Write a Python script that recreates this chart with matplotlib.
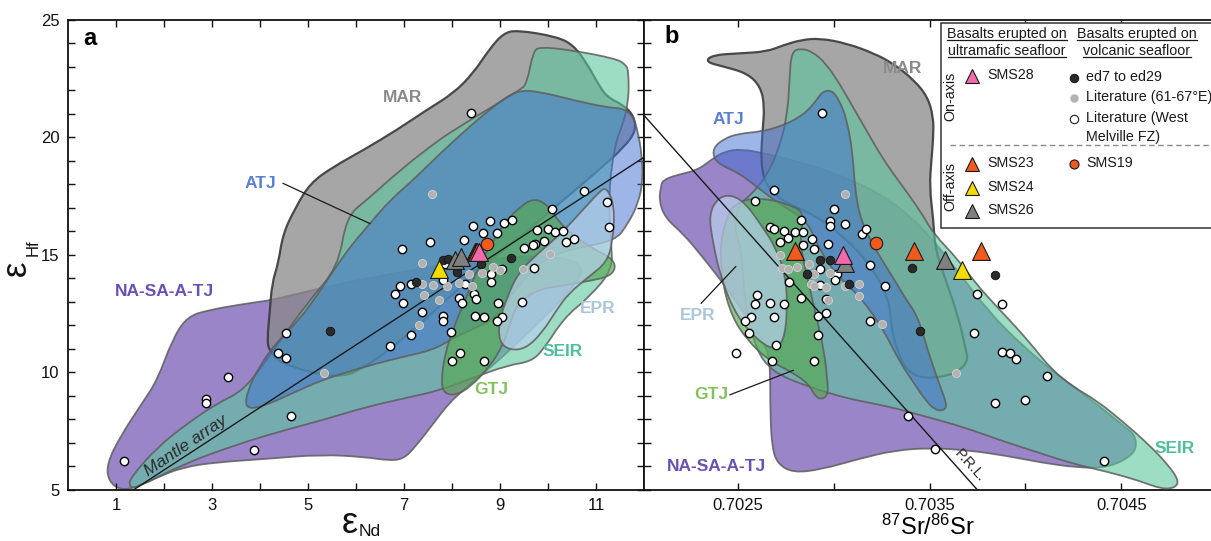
import numpy as np
import matplotlib
matplotlib.use("Agg")
import matplotlib.pyplot as plt
from matplotlib.path import Path
from matplotlib.patches import PathPatch, Rectangle
from matplotlib.lines import Line2D
from matplotlib.colors import to_rgba
from matplotlib.ticker import FixedLocator, FormatStrFormatter

plt.rcParams['font.family'] = ['Liberation Sans', 'DejaVu Sans']
plt.rcParams['mathtext.fontset'] = 'custom'
plt.rcParams['mathtext.rm'] = 'Liberation Sans'
plt.rcParams['mathtext.it'] = 'Liberation Sans:italic'
plt.rcParams['mathtext.bf'] = 'Liberation Sans:bold'

# ---------------- panel a : field outlines (eNd, eHf) ----------------
a_nsat_x = [0.81,1.08,1.54,1.86,2.17,2.48,2.95,3.57,4.03,4.27,5.5,7.0,8.5,10.0,10.8,10.5,9.5,8.8,8.39,8.24,
            7.93,7.61,7.23,6.99,6.68,6.21,5.28,4.11,3.10,2.40,1.86,1.39,1.08,0.84]
a_nsat_y = [6.11,7.25,8.68,9.67,11.38,12.38,12.66,12.88,13.02,13.09,13.7,14.3,14.8,15.0,14.6,13.5,11.5,10.2,9.53,9.25,
            8.68,7.82,6.82,6.32,6.25,6.40,6.51,6.32,6.18,5.97,5.54,5.09,5.0,5.4]
a_mar_x = [4.15,4.2,4.25,4.38,4.48,4.73,5.04,5.53,6.15,6.85,7.47,8.03,8.44,8.79,9.07,9.35,10.18,10.53,10.81,11.02,
           11.22,11.57,11.78,11.84,11.6,11.0,10.3,9.5,8.7,8.0,7.3,6.6,6.06,5.75,5.28,4.66,4.35,4.19]
a_mar_y = [11.38,12.5,13.8,14.63,15.91,16.97,18.04,18.75,19.45,20.31,21.16,21.87,22.72,23.78,24.42,24.56,24.28,23.92,23.14,22.36,
           21.72,21.37,20.94,20.3,19.6,18.5,17.3,15.9,14.6,13.3,12.0,10.8,10.1,9.84,9.89,10.24,10.53,10.95]
a_seir_x = [9.69,9.83,10.5,11.4,11.62,11.68,11.68,11.55,11.39,11.26,11.31,11.35,10.87,10.34,9.9,9.64,9.17,8.39,7.77,6.99,
            6.21,5.28,4.50,3.57,2.40,1.39,1.27,1.31,1.86,2.48,3.10,3.68,4.3,5.0,5.63,5.80,6.22,6.92,7.54,8.03,9.42,9.56]
a_seir_y = [23.64,23.85,23.7,23.35,23.1,22.8,21.5,20.5,19.67,17.62,15.56,14.39,13.22,12.34,10.95,10.46,10.31,9.74,9.25,8.89,
            8.53,7.96,7.54,6.97,6.11,5.04,5.19,5.54,6.82,7.82,8.68,9.25,11.0,13.0,14.49,16.62,17.33,18.6,19.6,20.31,22.01,22.29]
a_atj_x = [3.68,3.75,4.0,4.35,4.8,5.2,5.55,5.9,6.29,6.71,7.19,7.75,8.44,8.86,9.35,9.83,10.53,11.22,11.57,11.78,
           11.88,11.95,11.98,11.88,11.66,11.4,10.6,10.0,9.6,9.2,8.9,8.5,8.08,7.61,6.84,6.06,5.28,4.66,4.04]
a_atj_y = [8.46,9.3,10.3,11.3,12.2,13.3,14.4,15.4,16.33,17.33,18.18,19.31,20.59,21.3,22.01,21.94,21.58,21.27,21.23,20.87,
           20.16,19.31,18.2,17.18,16.3,15.6,15.3,14.9,14.2,13.2,12.3,11.9,11.52,10.95,10.6,10.17,9.67,9.10,8.53]
a_gtj_x = [7.77,7.85,8.08,8.39,8.78,9.05,9.2,9.35,9.75,10.3,10.9,11.3,11.42,11.3,10.9,10.55,10.25,9.97,9.69,9.42,
           9.14,8.86,8.55,8.3,8.05,7.85]
a_gtj_y = [9.53,9.1,9.03,9.39,10.24,11.1,12.0,12.9,13.5,13.7,13.9,14.1,14.5,14.9,15.3,15.8,16.34,17.18,17.4,17.04,
           16.48,15.62,14.5,13.2,12.0,10.8]
a_epr_x = [11.22,11.39,11.35,11.22,10.87,10.43,10.17,9.9,9.55,9.2,8.98,8.98,9.15,9.38,9.82,10.25,10.78,11.04]
a_epr_y = [17.91,17.03,15.56,14.68,14.1,13.36,12.63,11.75,11.02,10.94,11.31,12.19,13.2,14.24,15.12,15.86,17.03,17.62]

# ---------------- panel b : field outlines (87Sr/86Sr, eHf) ----------------
b_nsat_x = [0.70210,0.70211,0.70218,0.70229,0.70236,0.70243,0.70252,0.70265,0.70280,0.70300,
            0.70325,0.70345,0.70363,0.70380,0.70399,0.70418,0.70437,0.70452,0.70457,0.70458,
            0.70453,0.70442,0.70427,0.70408,0.70389,0.70370,0.70351,0.70332,0.70313,0.70294,
            0.70279,0.70271,0.70268,0.70267,0.70267,0.70266,0.70260,0.70250,0.70241,0.70231,
            0.70222,0.70212,0.70209]
b_nsat_y = [17.89,18.18,18.39,18.6,19.03,19.4,19.5,19.3,19.0,18.5,
            17.6,16.3,14.50,12.65,11.09,9.81,8.67,7.67,7.35,6.76,
            6.32,5.95,5.95,6.17,6.47,6.69,6.79,6.69,6.32,5.88,
            5.73,6.10,6.76,8.23,9.99,10.87,11.75,12.92,13.95,14.98,
            15.86,16.59,17.33]
b_mar_x = [0.70233,0.70237,0.70251,0.70265,0.70274,0.70283,0.70293,0.70307,0.70321,0.70331,
           0.70342,0.70349,0.70352,0.70352,0.70351,0.70350,0.70352,0.70353,0.70359,0.70365,
           0.70369,0.70370,0.70366,0.70359,0.70346,0.70338,0.70333,0.70330,0.70329,0.70320,
           0.70305,0.70290,0.70274,0.70265,0.70262,0.70263,0.70264,0.70262,0.70255,0.70243]
b_mar_y = [23.21,23.50,23.57,23.64,23.92,24.14,24.21,23.99,23.57,23.14,
           22.43,21.72,20.87,20.02,19.03,17.89,16.5,15.21,13.79,12.37,
           10.95,10.52,10.09,9.84,9.74,10.09,10.95,11.94,13.08,14.5,
           15.8,16.7,17.26,17.89,18.89,20.31,21.3,22.15,22.72,23.0]
b_seir_x = [0.70278,0.70283,0.70289,0.70296,0.70303,0.70310,0.70317,0.70324,0.70331,0.70340,
            0.70347,0.70352,0.70365,0.70374,0.70385,0.70395,0.70404,0.70414,0.70425,0.70437,
            0.70450,0.70463,0.70474,0.70480,0.70478,0.70471,0.70459,0.70444,0.70425,0.70406,
            0.70387,0.70368,0.70349,0.70330,0.70312,0.70298,0.70283,0.70274,0.70266,0.70260,
            0.70255,0.70253,0.70252,0.70248,0.70251,0.70256,0.70265,0.70272,0.70276,0.70277]
b_seir_y = [23.64,23.78,23.64,23.14,22.29,21.30,20.31,19.31,18.46,17.47,
            16.62,15.91,14.79,13.79,12.80,11.94,11.09,10.09,9.38,8.81,
            7.96,7.03,6.11,5.40,5.09,5.04,5.40,5.75,6.11,6.61,
            7.11,7.67,8.10,8.53,8.81,9.10,9.52,9.81,10.23,10.95,
            12.37,13.79,15.21,16.19,17.19,17.47,18.32,19.6,21.02,22.43]
b_atj_x = [0.70237,0.70243,0.70251,0.70262,0.70272,0.70283,0.70290,0.70294,0.70299,0.70303,
           0.70307,0.70310,0.70311,0.70314,0.70322,0.70332,0.70337,0.70344,0.70349,0.70355,
           0.70359,0.70358,0.70353,0.70348,0.70342,0.70334,0.70327,0.70319,0.70312,0.70304,
           0.70294,0.70286,0.70277,0.70269,0.70260,0.70251,0.70243,0.70238]
b_atj_y = [19.53,19.95,20.16,20.24,20.45,20.87,21.44,21.94,22.01,21.58,
           20.73,19.31,17.89,16.48,15.2,13.9,13.2,12.37,10.95,9.52,
           8.67,8.39,8.39,8.81,9.52,10.52,11.66,12.65,13.36,13.93,
           15.0,16.48,16.90,17.33,17.89,18.46,18.75,19.03]
b_gtj_x = [0.70251,0.70258,0.70269,0.70277,0.70283,0.70284,0.70283,0.70283,0.70287,0.70291,
           0.70295,0.70297,0.70297,0.70295,0.70291,0.70287,0.70278,0.70266,0.70255,0.70247,
           0.70242,0.70241,0.70242,0.70243,0.70246]
b_gtj_y = [17.26,17.40,17.33,17.11,16.90,16.48,15.91,15.21,13.79,12.37,
           10.95,9.52,9.10,8.88,8.90,9.52,10.02,10.52,11.37,12.37,
           13.79,15.21,15.8,16.19,16.90]
b_epr_x = [0.70235,0.70237,0.70241,0.70248,0.70256,0.70264,0.70269,0.70274,0.70276,0.70275,
           0.70270,0.70262,0.70254,0.70247,0.70240]
b_epr_y = [16.74,15.56,14.10,12.63,11.75,11.16,11.02,11.31,12.63,14.10,
           15.3,16.3,17.2,17.55,17.45]

# ---------------- samples, panel a ----------------
a_white_nd = [8.39,10.74,11.22,11.27,10.08,8.43,8.79,9.08,9.24,8.65,8.94,8.24,7.55,6.96,9.78,10.00,10.15,10.32,10.55,10.38,
              9.92,9.73,9.68,9.51,9.70,9.05,8.82,8.81,7.81,7.85,7.15,6.91,6.81,6.97,7.38,7.81,7.81,8.45,8.49,8.14,
              8.20,8.47,8.67,8.96,9.46,9.04,8.94,7.15,7.97,6.70,4.55,4.37,4.55,8.16,8.00,8.67,3.33,2.87,2.87,4.64,
              3.88,1.16,8.28]
a_white_hf = [21.02,17.72,17.24,16.19,16.97,16.23,16.42,16.34,16.48,15.91,15.95,15.65,15.53,15.23,16.05,16.08,15.97,16.02,15.67,15.53,
              15.57,15.48,15.40,15.31,14.44,14.40,14.20,13.86,13.95,14.59,13.76,13.66,13.33,12.95,12.55,12.42,12.19,13.33,13.12,13.16,
              12.95,12.42,12.34,12.95,12.99,12.34,12.19,11.60,11.70,11.14,11.67,10.84,10.60,10.84,10.50,10.50,9.81,8.86,8.68,8.13,
              6.72,6.23,13.78]
a_gray_nd = [7.59,7.37,7.37,7.60,7.42,7.73,7.90,8.14,8.35,8.42,8.63,8.86,9.00,9.47,10.05,7.32,5.34]
a_gray_hf = [17.58,14.66,13.76,13.73,13.28,13.09,13.66,13.80,14.19,13.69,14.23,14.49,14.37,14.40,15.03,12.02,9.99]
a_black_nd = [5.45,7.26,7.82,7.92,8.11,8.60,9.23]
a_black_hf = [11.78,13.85,14.80,14.83,14.26,14.63,14.87]
a_sms23_nd, a_sms23_hf = [8.47,8.50,8.53], [15.12,15.14,15.12]
a_sms28_nd, a_sms28_hf = [8.57], [15.13]
a_sms26_nd, a_sms26_hf = [8.06,8.18], [14.77,14.89]
a_sms24_nd, a_sms24_hf = [7.73], [14.40]
a_sms19_nd, a_sms19_hf = [8.72], [15.48]

# ---------------- samples, panel b ----------------
b_white_sr = [0.70294,0.70269,0.70259,0.70300,0.70283,0.70298,0.70298,0.70306,0.70267,0.70269,0.70274,0.70280,0.70284,0.70276,
              0.70272,0.70284,0.70289,0.70290,0.70297,0.70315,0.70317,0.70319,0.70302,0.70301,0.70293,0.70277,0.70293,0.70327,
              0.70260,0.70259,0.70267,0.70274,0.70283,0.70296,0.70375,0.70388,0.70257,0.70254,0.70269,0.70296,0.70292,0.70319,
              0.70256,0.70292,0.70373,0.70249,0.70270,0.70268,0.70290,0.70388,0.70392,0.70395,0.70411,0.70384,0.70400,0.70339,
              0.70353,0.70441]
b_white_hf = [21.02,17.74,17.28,16.97,16.50,16.45,16.23,16.33,16.20,16.11,16.03,15.96,15.98,15.71,
              15.54,15.42,15.68,15.27,15.48,15.89,16.08,14.57,14.20,13.95,14.38,13.85,13.73,13.66,
              13.29,12.92,12.97,12.92,13.16,13.14,13.33,12.92,12.37,12.19,12.34,12.53,12.41,12.19,
              11.68,11.60,11.68,10.84,11.16,10.50,10.50,10.87,10.84,10.58,9.84,8.70,8.84,8.16,
              6.76,6.25]
b_gray_sr = [0.70306,0.70272,0.70273,0.70276,0.70281,0.70287,0.70290,0.70298,0.70288,0.70290,0.70296,0.70306,0.70313,
             0.70313,0.70297,0.70325,0.70364]
b_gray_hf = [17.59,15.01,14.46,14.39,14.49,14.61,14.17,14.24,13.77,13.66,13.63,13.69,13.77,13.25,13.10,12.04,9.99]
b_black_sr = [0.70293,0.70298,0.70286,0.70308,0.70341,0.70384,0.70345]
b_black_hf = [14.80,14.76,14.17,13.77,14.46,14.14,11.75]
b_sms23_sr, b_sms23_hf = [0.70280,0.70342,0.70377], [15.15,15.15,15.15]
b_sms28_sr, b_sms28_hf = [0.70305], [15.01]
b_sms26_sr, b_sms26_hf = [0.70306,0.70358], [14.66,14.80]
b_sms24_sr, b_sms24_hf = [0.70367], [14.36]
b_sms19_sr, b_sms19_hf = [0.70322], [15.52]

# reference lines
mantle_x, mantle_y = [1.36, 12.0], [5.0, 19.15]
prl_x, prl_y = [0.70201, 0.70375], [20.95, 5.0]

# ---------------- styles ----------------
field_style = {
    'NSAT': ('#7a5cb8', 0.75),
    'MAR': ('#8a888a', 0.75),
    'SEIR': ('#5cc79e', 0.60),
    'ATJ': ('#3f6fd0', 0.50),
    'GTJ': ('#55a84f', 0.65),
    'EPR': ('#b8d0ec', 0.70),
}
EDGE = to_rgba('#5e5e5e', 0.85)


def field(ax, xs, ys, key, edge=EDGE, lw=1.3, z=1):
    pts = np.column_stack([xs, ys])
    n = len(pts)
    mids = (pts + np.roll(pts, -1, axis=0)) / 2.0
    verts = [mids[-1]]
    codes = [Path.MOVETO]
    for i in range(n):
        verts += [pts[i], mids[i]]
        codes += [Path.CURVE3, Path.CURVE3]
    verts.append(mids[-1])
    codes.append(Path.CLOSEPOLY)
    col, al = field_style[key]
    p = PathPatch(Path(verts, codes), facecolor=to_rgba(col, al), edgecolor=edge,
                  lw=lw, zorder=z, joinstyle='round')
    ax.add_patch(p)


fig = plt.figure(figsize=(12.11, 5.41), dpi=100)
fig.patch.set_facecolor('white')
axa = fig.add_axes([68 / 1211, 51 / 541, 576 / 1211, 470.3 / 541])
axb = fig.add_axes([644 / 1211, 51 / 541, 567 / 1211, 470.3 / 541])

MAR_EDGE = to_rgba('#3a3a3a', 0.9)

# panel a fields
field(axa, a_nsat_x, a_nsat_y, 'NSAT', z=1)
field(axa, a_mar_x, a_mar_y, 'MAR', edge=MAR_EDGE, lw=1.6, z=2)
field(axa, a_seir_x, a_seir_y, 'SEIR', z=3)
field(axa, a_atj_x, a_atj_y, 'ATJ', z=4)
field(axa, a_gtj_x, a_gtj_y, 'GTJ', z=5)
field(axa, a_epr_x, a_epr_y, 'EPR', z=6)

# panel b fields
field(axb, b_nsat_x, b_nsat_y, 'NSAT', z=1)
field(axb, b_mar_x, b_mar_y, 'MAR', edge=MAR_EDGE, lw=1.6, z=2)
field(axb, b_seir_x, b_seir_y, 'SEIR', z=3)
field(axb, b_atj_x, b_atj_y, 'ATJ', z=4)
field(axb, b_gtj_x, b_gtj_y, 'GTJ', z=5)
field(axb, b_epr_x, b_epr_y, 'EPR', z=6)

# reference lines
axa.plot(mantle_x, mantle_y, color='#1a1a1a', lw=1.0, zorder=8)
axa.text(2.46, 6.86, 'Mantle array', rotation=34, fontsize=12.5, style='italic',
         color='#2a2a2a', ha='center', va='center', zorder=8, rotation_mode='anchor')
axb.plot(prl_x, prl_y, color='#1a1a1a', lw=1.0, zorder=8)
axb.text(0.70371, 6.05, 'P.R.L.', rotation=-48, fontsize=10.5, color='#2a2a2a',
         ha='center', va='center', zorder=8, rotation_mode='anchor')

# leader lines
axa.plot([4.48, 6.29], [18.04, 16.33], color='#1a1a1a', lw=0.9, zorder=8)
axb.plot([0.70231, 0.70249], [12.94, 14.50], color='#1a1a1a', lw=0.9, zorder=8)
axb.plot([0.70246, 0.70279], [9.05, 10.09], color='#1a1a1a', lw=0.9, zorder=8)

# field labels
lab = dict(fontsize=12.5, fontweight='bold', ha='center', va='center', zorder=9)
C_MAR, C_ATJ, C_NSAT = '#8a8a8a', '#5a80d6', '#6a50b6'
C_EPR, C_SEIR, C_GTJ = '#a9c7da', '#4dbf9a', '#80c35a'
axa.text(6.97, 21.70, 'MAR', color=C_MAR, **lab)
axa.text(4.0, 18.04, 'ATJ', color=C_ATJ, **lab)
axa.text(2.01, 13.45, 'NA-SA-A-TJ', color=C_NSAT, **lab)
axa.text(11.04, 12.73, 'EPR', color=C_EPR, **lab)
axa.text(10.3, 10.88, 'SEIR', color=C_SEIR, **lab)
axa.text(8.82, 9.27, 'GTJ', color=C_GTJ, **lab)
axb.text(0.70336, 22.93, 'MAR', color=C_MAR, **lab)
axb.text(0.70245, 20.77, 'ATJ', color=C_ATJ, **lab)
axb.text(0.70229, 12.41, 'EPR', color=C_EPR, **lab)
axb.text(0.70236, 9.06, 'GTJ', color=C_GTJ, **lab)
axb.text(0.70239, 6.0, 'NA-SA-A-TJ', color=C_NSAT, **lab)
axb.text(0.70478, 6.76, 'SEIR', color=C_SEIR, **lab)

# samples
WHITE = dict(s=36, facecolor='white', edgecolor='black', linewidths=1.0, zorder=10)
GRAY = dict(s=34, facecolor='#b2b2b2', edgecolor='#d4d4d4', linewidths=0.6, zorder=11)
BLACK = dict(s=38, facecolor='#2a2a2a', edgecolor='#111111', linewidths=0.6, zorder=12)
TRI = dict(marker='^', s=165, edgecolor='#1a1a1a', linewidths=0.8, zorder=14)
C_PINK, C_ORANGE, C_YELLOW, C_GTRI = '#f26aab', '#f05a1c', '#f5dc00', '#808080'

for ax, d in ((axa, (a_white_nd, a_white_hf, a_gray_nd, a_gray_hf, a_black_nd, a_black_hf,
                     a_sms23_nd, a_sms23_hf, a_sms28_nd, a_sms28_hf, a_sms26_nd, a_sms26_hf,
                     a_sms24_nd, a_sms24_hf, a_sms19_nd, a_sms19_hf)),
              (axb, (b_white_sr, b_white_hf, b_gray_sr, b_gray_hf, b_black_sr, b_black_hf,
                     b_sms23_sr, b_sms23_hf, b_sms28_sr, b_sms28_hf, b_sms26_sr, b_sms26_hf,
                     b_sms24_sr, b_sms24_hf, b_sms19_sr, b_sms19_hf))):
    ax.scatter(d[0], d[1], **WHITE)
    ax.scatter(d[2], d[3], **GRAY)
    ax.scatter(d[4], d[5], **BLACK)
    ax.scatter(d[14], d[15], s=80, facecolor=C_ORANGE, edgecolor='#1a1a1a', linewidths=0.8, zorder=13)
    ax.scatter(d[6], d[7], facecolor=C_ORANGE, **TRI)
    ax.scatter(d[10], d[11], facecolor=C_GTRI, **TRI)
    ax.scatter(d[12], d[13], facecolor=C_YELLOW, **TRI)
    ax.scatter(d[8], d[9], facecolor=C_PINK, **TRI)

# axes formatting
axa.set_xlim(0, 12)
axa.set_ylim(5, 25)
axb.set_xlim(0.702012, 0.704967)
axb.set_ylim(5, 25)

axa.xaxis.set_major_locator(FixedLocator([1, 3, 5, 7, 9, 11]))
axa.xaxis.set_minor_locator(FixedLocator([2, 4, 6, 8, 10]))
axa.yaxis.set_major_locator(FixedLocator([5, 10, 15, 20, 25]))
axa.yaxis.set_minor_locator(FixedLocator([6, 7, 8, 9, 11, 12, 13, 14, 16, 17, 18, 19, 21, 22, 23, 24]))
axb.xaxis.set_major_locator(FixedLocator([0.7025, 0.7035, 0.7045]))
axb.xaxis.set_minor_locator(FixedLocator([0.7030, 0.7040]))
axb.xaxis.set_major_formatter(FormatStrFormatter('%.4f'))
axb.yaxis.set_major_locator(FixedLocator([5, 10, 15, 20, 25]))
axb.yaxis.set_minor_locator(FixedLocator([6, 7, 8, 9, 11, 12, 13, 14, 16, 17, 18, 19, 21, 22, 23, 24]))

for ax in (axa, axb):
    ax.tick_params(which='both', direction='in', length=5, width=1.0, top=True,
                   labelsize=12, pad=6, colors='#111111')
    for s in ax.spines.values():
        s.set_linewidth(1.3)
        s.set_color('#111111')
axa.tick_params(which='both', right=True)
axb.tick_params(which='both', left=True, right=False, labelleft=False)
axb.spines['right'].set_visible(False)


def fx(px):
    return px / 1211.0


def fy(py):
    return 1.0 - py / 541.0


# axis labels (epsilon with small subscript, as in the original)
fig.text(fx(342), fy(533), 'ε', fontsize=26, ha='left', va='baseline', color='#111111')
fig.text(fx(359), fy(536), 'Nd', fontsize=12.5, ha='left', va='baseline', color='#111111')
fig.text(fx(26), fy(276), 'ε', fontsize=25, rotation=90, rotation_mode='anchor',
         ha='left', va='baseline', color='#111111')
fig.text(fx(38), fy(256), 'Hf', fontsize=12, rotation=90, rotation_mode='anchor',
         ha='left', va='baseline', color='#111111')
axb.set_xlabel('$^{87}$Sr/$^{86}$Sr', fontsize=17, labelpad=1)

axa.text(0.038, 0.96, 'a', transform=axa.transAxes, fontsize=17, fontweight='bold',
         ha='center', va='center', zorder=20)
axb.text(0.048, 0.965, 'b', transform=axb.transAxes, fontsize=17, fontweight='bold',
         ha='center', va='center', zorder=20)

# ---------------- legend (figure coordinates) ----------------
fig.add_artist(Rectangle((fx(941), fy(228)), fx(1300) - fx(941), fy(23) - fy(228),
                         transform=fig.transFigure, facecolor='white', edgecolor='#333333',
                         lw=1.1, zorder=30))
LT = dict(fontsize=10.3, color='#1a1a1a', va='center', zorder=31)
heads = [
    fig.text(fx(1007), fy(34), 'Basalts erupted on', ha='center', **LT),
    fig.text(fx(1007), fy(51), 'ultramafic seafloor', ha='center', **LT),
    fig.text(fx(1137), fy(34), 'Basalts erupted on', ha='center', **LT),
    fig.text(fx(1137), fy(51), 'volcanic seafloor', ha='center', **LT),
]
fig.text(fx(950), fy(96), 'On-axis', rotation=90, ha='center', **LT)
fig.text(fx(950), fy(187), 'Off-axis', rotation=90, ha='center', **LT)

leg_rows = [
    ('^', C_PINK, 972, 76, 9.5, 'SMS28', 987),
    ('o', '#2a2a2a', 1074, 78, 6.0, 'ed7 to ed29', 1086),
    ('o', '#b2b2b2', 1074, 98, 6.0, 'Literature (61-67°E)', 1086),
    ('o', 'white', 1074, 119, 6.0, 'Literature (West', 1086),
    ('^', C_ORANGE, 972, 164, 9.5, 'SMS23', 987),
    ('o', C_ORANGE, 1074, 164, 6.5, 'SMS19', 1086),
    ('^', C_YELLOW, 972, 188, 9.5, 'SMS24', 987),
    ('^', C_GTRI, 972, 211, 9.5, 'SMS26', 987),
]
for mk, col, mx, my, ms, txt, tx in leg_rows:
    ec = '#1a1a1a'
    mew = 0.8
    if col == '#b2b2b2':
        ec, mew = '#d4d4d4', 0.5
    fig.add_artist(Line2D([fx(mx)], [fy(my)], marker=mk, markersize=ms, markerfacecolor=col,
                          markeredgecolor=ec, markeredgewidth=mew, linestyle='none',
                          transform=fig.transFigure, zorder=31))
    fig.text(fx(tx), fy(my - 1), txt, ha='left', **LT)
fig.text(fx(1086), fy(137), 'Melville FZ)', ha='left', **LT)
fig.add_artist(Line2D([fx(950), fx(1215)], [fy(145), fy(145)], transform=fig.transFigure,
                      color='#8a8a8a', lw=1.0, linestyle=(0, (4, 2.5)), zorder=31))

fig.canvas.draw()
rend = fig.canvas.get_renderer()
inv = fig.transFigure.inverted()
for t in heads:
    bb = t.get_window_extent(rend).transformed(inv)
    fig.add_artist(Line2D([bb.x0, bb.x1], [bb.y0 + 0.002, bb.y0 + 0.002], transform=fig.transFigure,
                          color='#1a1a1a', lw=0.9, zorder=31))

fig.savefig('out.png', dpi=100, facecolor='white')
